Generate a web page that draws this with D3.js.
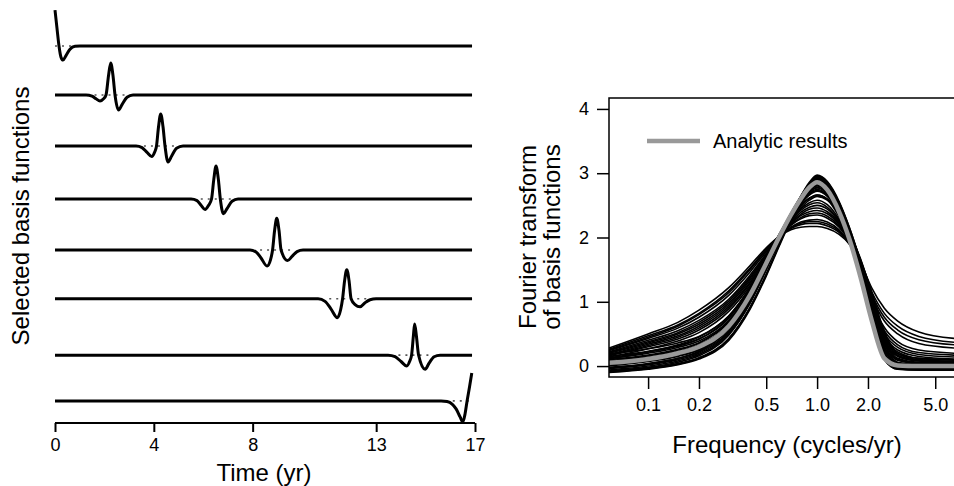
<!DOCTYPE html>
<html>
<head>
<meta charset="utf-8">
<script src="https://cdn.jsdelivr.net/npm/d3@7/dist/d3.min.js"></script>
<style>
  html, body { margin: 0; padding: 0; background: #fff; }
  svg { display: block; font-family: "Liberation Sans", Arial, Helvetica, sans-serif; }
</style>
</head>
<body>
<svg id="chart" width="954" height="486"></svg>
<script>
// ---------- Left panel: selected basis functions ----------
const timeTicks = [0, 4, 8, 13, 17];

// vertical offset of each stacked basis function (amplitude units)
const rowOffsets = [0, -1.53, -3.125, -4.78, -6.375, -7.9, -9.66, -11.09];

// basis functions as [time (yr), amplitude]
const basisRows = [
  [[0, 1.12], [0.081, 0.55], [0.162, 0], [0.243, -0.35], [0.324, -0.44], [0.445, -0.3], [0.607, -0.1], [0.81, -0.01], [1.01, 0], [16.88, 0]],
  [[0, 0], [1.255, 0], [1.498, -0.04], [1.66, -0.12], [1.822, -0.19], [1.964, -0.12], [2.065, 0], [2.166, 0.6], [2.255, 1.0], [2.348, 0.6], [2.429, 0], [2.571, -0.47], [2.713, -0.3], [2.915, -0.07], [3.158, 0], [16.88, 0]],
  [[0, 0], [3.279, 0], [3.522, -0.05], [3.725, -0.2], [3.915, -0.33], [4.028, -0.2], [4.109, 0], [4.19, 0.6], [4.279, 1.0], [4.372, 0.6], [4.453, 0], [4.575, -0.5], [4.717, -0.32], [4.919, -0.07], [5.182, 0], [16.88, 0]],
  [[0, 0], [5.506, 0], [5.749, -0.05], [5.911, -0.2], [6.073, -0.33], [6.215, -0.2], [6.336, 0], [6.429, 0.62], [6.518, 1.03], [6.611, 0.62], [6.692, 0], [6.814, -0.46], [6.964, -0.3], [7.166, -0.07], [7.409, 0], [16.88, 0]],
  [[0, 0], [7.895, 0], [8.138, -0.06], [8.34, -0.25], [8.583, -0.5], [8.725, -0.3], [8.806, 0], [8.887, 0.6], [8.976, 0.99], [9.069, 0.6], [9.15, 0], [9.413, -0.33], [9.595, -0.2], [9.798, -0.05], [10.04, 0], [16.88, 0]],
  [[0, 0], [10.648, 0], [10.931, -0.08], [11.174, -0.32], [11.429, -0.59], [11.559, -0.35], [11.64, 0], [11.721, 0.56], [11.81, 0.91], [11.903, 0.56], [11.984, 0], [12.146, -0.18], [12.348, -0.25], [12.551, -0.12], [12.753, -0.03], [12.996, 0], [16.88, 0]],
  [[0, 0], [13.482, 0], [13.765, -0.05], [14.008, -0.2], [14.239, -0.34], [14.352, -0.2], [14.433, 0], [14.506, 0.6], [14.555, 0.97], [14.628, 0.6], [14.717, 0], [14.98, -0.44], [15.142, -0.25], [15.344, -0.05], [15.587, 0], [16.88, 0]],
  [[0, 0], [15.628, 0], [15.87, -0.02], [16.073, -0.1], [16.235, -0.25], [16.397, -0.5], [16.506, -0.66], [16.599, -0.4], [16.68, 0], [16.781, 0.45], [16.87, 0.875]]
];

// dotted zero reference under each basis function [from, to] (yr)
const dottedSpans = [[0, 0.7], [1.6, 3.0], [3.6, 5.0], [5.9, 7.2], [8.3, 9.7], [11.1, 12.6], [13.9, 15.3], [16.1, 16.88]];

// ---------- Right panel: Fourier transforms ----------
const freqTicks = [0.1, 0.2, 0.5, 1.0, 2.0, 5.0];
const ftTicks = [0, 1, 2, 3, 4];

const freqGrid = [0.0587, 0.1, 0.15, 0.2, 0.3, 0.4, 0.5, 0.6, 0.7, 0.8, 0.9, 1.0, 1.15, 1.35, 1.55, 1.8, 2.1, 2.5, 3.0, 4.0, 6.5];

const analytic = [0.05, 0.11, 0.2, 0.3, 0.62, 1.1, 1.6, 2.02, 2.35, 2.6, 2.78, 2.86, 2.74, 2.4, 1.98, 1.4, 0.72, 0.12, 0.01, 0.0, 0.0];

// transforms of the individual numerical basis functions
const numericCurves = [
  [-0.02, 0.04, 0.12, 0.22, 0.54, 1.02, 1.55, 2.0, 2.36, 2.64, 2.84, 2.95, 2.84, 2.5, 2.08, 1.52, 0.86, 0.2, 0.0, -0.04, -0.04],
  [-0.1, -0.05, 0.02, 0.11, 0.4, 0.88, 1.4, 1.88, 2.27, 2.58, 2.81, 2.92, 2.8, 2.44, 2.0, 1.42, 0.74, 0.1, -0.05, -0.06, -0.06],
  [0.0, 0.07, 0.15, 0.25, 0.57, 1.05, 1.57, 2.0, 2.34, 2.6, 2.8, 2.89, 2.78, 2.46, 2.06, 1.5, 0.84, 0.18, 0.0, -0.02, -0.02],
  [-0.06, 0.0, 0.08, 0.18, 0.5, 0.98, 1.5, 1.96, 2.33, 2.62, 2.84, 2.96, 2.86, 2.54, 2.12, 1.56, 0.88, 0.18, -0.03, -0.05, -0.05],
  [-0.08, -0.03, 0.04, 0.13, 0.43, 0.91, 1.43, 1.91, 2.3, 2.61, 2.84, 2.94, 2.84, 2.52, 2.1, 1.54, 0.86, 0.16, -0.04, -0.06, -0.06],
  [-0.04, 0.02, 0.1, 0.2, 0.52, 1.0, 1.52, 1.98, 2.35, 2.63, 2.83, 2.93, 2.82, 2.5, 2.09, 1.52, 0.84, 0.14, -0.03, -0.04, -0.04],
  [0.02, 0.09, 0.18, 0.29, 0.63, 1.12, 1.63, 2.05, 2.38, 2.63, 2.8, 2.9, 2.8, 2.5, 2.12, 1.6, 0.96, 0.26, 0.02, -0.01, -0.01],
  [-0.07, -0.02, 0.06, 0.16, 0.48, 0.97, 1.5, 1.96, 2.34, 2.64, 2.86, 2.97, 2.87, 2.56, 2.16, 1.62, 0.96, 0.22, -0.03, -0.05, -0.05],
  [-0.03, 0.03, 0.12, 0.23, 0.58, 1.08, 1.6, 2.03, 2.37, 2.63, 2.82, 2.91, 2.83, 2.54, 2.16, 1.64, 1.0, 0.3, 0.01, -0.03, -0.03],
  [-0.09, -0.04, 0.03, 0.12, 0.42, 0.9, 1.42, 1.9, 2.29, 2.59, 2.81, 2.93, 2.81, 2.46, 2.02, 1.44, 0.76, 0.1, -0.05, -0.06, -0.06],
  [0.04, 0.11, 0.19, 0.29, 0.61, 1.09, 1.6, 2.03, 2.36, 2.6, 2.76, 2.83, 2.72, 2.44, 2.08, 1.58, 0.98, 0.3, 0.04, 0.01, 0.01],
  [0.07, 0.14, 0.23, 0.33, 0.65, 1.12, 1.62, 2.04, 2.36, 2.58, 2.72, 2.8, 2.7, 2.42, 2.06, 1.6, 1.02, 0.36, 0.06, 0.02, 0.02],
  [0.1, 0.17, 0.26, 0.36, 0.68, 1.14, 1.62, 2.03, 2.34, 2.56, 2.71, 2.78, 2.68, 2.4, 2.04, 1.58, 1.04, 0.4, 0.09, 0.04, 0.03],
  [0.12, 0.2, 0.29, 0.39, 0.71, 1.17, 1.64, 2.04, 2.33, 2.54, 2.68, 2.75, 2.66, 2.4, 2.06, 1.62, 1.08, 0.44, 0.12, 0.06, 0.05],
  [0.15, 0.23, 0.32, 0.42, 0.74, 1.2, 1.66, 2.05, 2.32, 2.52, 2.66, 2.72, 2.64, 2.38, 2.06, 1.64, 1.12, 0.48, 0.15, 0.08, 0.06],
  [0.19, 0.27, 0.36, 0.46, 0.78, 1.22, 1.66, 2.04, 2.28, 2.46, 2.58, 2.64, 2.58, 2.36, 2.06, 1.66, 1.16, 0.54, 0.2, 0.12, 0.1],
  [0.08, 0.16, 0.25, 0.36, 0.7, 1.17, 1.66, 2.06, 2.36, 2.56, 2.68, 2.73, 2.65, 2.42, 2.1, 1.66, 1.1, 0.42, 0.1, 0.04, 0.03],
  [0.05, 0.12, 0.21, 0.31, 0.63, 1.1, 1.6, 2.02, 2.34, 2.56, 2.7, 2.77, 2.69, 2.44, 2.1, 1.64, 1.06, 0.36, 0.05, 0.02, 0.02],
  [0.13, 0.22, 0.31, 0.42, 0.76, 1.22, 1.68, 2.06, 2.33, 2.5, 2.61, 2.66, 2.6, 2.38, 2.08, 1.68, 1.14, 0.5, 0.17, 0.09, 0.07],
  [0.02, 0.08, 0.16, 0.26, 0.58, 1.06, 1.56, 2.0, 2.34, 2.58, 2.74, 2.81, 2.74, 2.48, 2.12, 1.62, 1.0, 0.3, 0.02, 0.0, 0.0],
  [0.28, 0.5, 0.68, 0.87, 1.22, 1.56, 1.84, 2.02, 2.12, 2.16, 2.17, 2.17, 2.14, 2.05, 1.9, 1.62, 1.22, 0.9, 0.7, 0.53, 0.43],
  [0.26, 0.47, 0.64, 0.82, 1.17, 1.52, 1.82, 2.02, 2.14, 2.2, 2.22, 2.22, 2.18, 2.08, 1.9, 1.58, 1.16, 0.82, 0.62, 0.46, 0.37],
  [0.24, 0.43, 0.59, 0.76, 1.1, 1.46, 1.78, 2.02, 2.16, 2.24, 2.27, 2.28, 2.24, 2.12, 1.92, 1.56, 1.08, 0.7, 0.5, 0.35, 0.28],
  [0.22, 0.4, 0.55, 0.71, 1.04, 1.41, 1.75, 2.02, 2.19, 2.29, 2.34, 2.35, 2.3, 2.16, 1.94, 1.54, 1.0, 0.6, 0.38, 0.25, 0.2],
  [0.2, 0.36, 0.5, 0.65, 0.98, 1.36, 1.72, 2.01, 2.21, 2.34, 2.4, 2.42, 2.37, 2.2, 1.96, 1.52, 0.94, 0.5, 0.29, 0.18, 0.14],
  [0.17, 0.32, 0.45, 0.59, 0.92, 1.3, 1.68, 2.0, 2.23, 2.39, 2.47, 2.5, 2.44, 2.24, 1.97, 1.5, 0.9, 0.42, 0.22, 0.12, 0.09],
  [0.14, 0.27, 0.39, 0.52, 0.85, 1.25, 1.65, 2.0, 2.26, 2.44, 2.54, 2.58, 2.51, 2.28, 1.98, 1.48, 0.86, 0.35, 0.16, 0.08, 0.06],
  [0.11, 0.22, 0.33, 0.45, 0.78, 1.2, 1.62, 2.0, 2.29, 2.49, 2.61, 2.66, 2.59, 2.32, 1.99, 1.46, 0.82, 0.28, 0.11, 0.05, 0.04],
  [0.25, 0.45, 0.62, 0.8, 1.14, 1.5, 1.8, 2.02, 2.15, 2.22, 2.25, 2.25, 2.21, 2.1, 1.91, 1.57, 1.12, 0.76, 0.56, 0.41, 0.33],
  [0.16, 0.3, 0.42, 0.56, 0.89, 1.28, 1.67, 2.0, 2.25, 2.42, 2.51, 2.54, 2.47, 2.26, 1.97, 1.49, 0.88, 0.38, 0.19, 0.1, 0.07],
  [0.21, 0.38, 0.52, 0.68, 1.01, 1.38, 1.73, 2.01, 2.2, 2.31, 2.37, 2.38, 2.33, 2.18, 1.95, 1.53, 0.97, 0.55, 0.33, 0.21, 0.17],
  [0.18, 0.34, 0.47, 0.62, 0.95, 1.33, 1.7, 2.0, 2.22, 2.36, 2.44, 2.46, 2.4, 2.22, 1.96, 1.51, 0.92, 0.46, 0.25, 0.15, 0.11]
];

const legendLabel = "Analytic results";

// ---------- drawing ----------
const svg = d3.select("#chart");

// left panel scales
const xT = d3.scaleLinear().domain([0, 17]).range([55, 475]);
const yL = d3.scaleLinear().domain([0, -11.09]).range([46, 400.9]);

const left = svg.append("g");

const rowLine = (off) => d3.line()
  .x(d => xT(d[0]))
  .y(d => yL(off + d[1]))
  .curve(d3.curveMonotoneX);

// dotted references
left.selectAll("line.ref").data(dottedSpans).join("line")
  .attr("class", "ref")
  .attr("x1", d => xT(d[0])).attr("x2", d => xT(d[1]))
  .attr("y1", (d, i) => yL(rowOffsets[i])).attr("y2", (d, i) => yL(rowOffsets[i]))
  .attr("stroke", "#555").attr("stroke-width", 1.6)
  .attr("stroke-dasharray", "2,5");

left.selectAll("path.basis").data(basisRows).join("path")
  .attr("class", "basis")
  .attr("d", (d, i) => rowLine(rowOffsets[i])(d))
  .attr("fill", "none").attr("stroke", "#000")
  .attr("stroke-width", 3).attr("stroke-linejoin", "round");

// time axis
const axT = left.append("g").attr("transform", "translate(0,423)")
  .call(d3.axisBottom(xT).tickValues(timeTicks).tickSize(9).tickPadding(6).tickFormat(d3.format("d")));
axT.select(".domain").attr("stroke-width", 2).attr("d", `M${xT(0)},0H${xT(17)}`);
axT.selectAll(".tick line").attr("stroke-width", 2);
axT.selectAll(".tick text").attr("font-size", 18).attr("fill", "#000");
axT.attr("font-family", null).attr("font-size", null);

left.append("text").attr("x", 264).attr("y", 481)
  .attr("text-anchor", "middle").attr("font-size", 24).text("Time (yr)");
left.append("text").attr("transform", "translate(29,216) rotate(-90)")
  .attr("text-anchor", "middle").attr("font-size", 24).text("Selected basis functions");

// right panel scales
const xF = d3.scaleLog().domain([0.0587, 10]).range([609, 609 + 169 * Math.log10(10 / 0.0587)]);
const yF = d3.scaleLinear().domain([-0.17, 4.17]).range([377, 98]);

const right = svg.append("g");
right.append("clipPath").attr("id", "plotclip").append("rect")
  .attr("x", xF.range()[0]).attr("y", yF.range()[1])
  .attr("width", xF.range()[1] - xF.range()[0]).attr("height", yF.range()[0] - yF.range()[1]);

const ftLine = d3.line()
  .x((d, i) => xF(freqGrid[i]))
  .y(d => yF(d))
  .curve(d3.curveMonotoneX);

const curves = right.append("g").attr("clip-path", "url(#plotclip)");
curves.selectAll("path.num").data(numericCurves).join("path")
  .attr("class", "num")
  .attr("d", ftLine)
  .attr("fill", "none").attr("stroke", "#000").attr("stroke-width", 1.6);
curves.append("path").datum(analytic)
  .attr("d", ftLine)
  .attr("fill", "none").attr("stroke", "#999").attr("stroke-width", 4.5);

// plot frame
right.append("rect")
  .attr("x", xF.range()[0]).attr("y", yF.range()[1])
  .attr("width", xF.range()[1] - xF.range()[0]).attr("height", yF.range()[0] - yF.range()[1])
  .attr("fill", "none").attr("stroke", "#000").attr("stroke-width", 1.5);

const axF = right.append("g").attr("transform", `translate(0,${yF.range()[0]})`)
  .call(d3.axisBottom(xF).tickValues(freqTicks).tickSize(12).tickPadding(9).tickFormat(d3.format(".1f")));
axF.select(".domain").remove();
axF.selectAll(".tick line").attr("stroke-width", 1.5);
axF.selectAll(".tick text").attr("font-size", 18).attr("fill", "#000");
axF.attr("font-family", null).attr("font-size", null);

const axY = right.append("g").attr("transform", `translate(${xF.range()[0]},0)`)
  .call(d3.axisLeft(yF).tickValues(ftTicks).tickSize(12).tickPadding(8).tickFormat(d3.format("d")));
axY.select(".domain").remove();
axY.selectAll(".tick line").attr("stroke-width", 1.5);
axY.selectAll(".tick text").attr("font-size", 18).attr("fill", "#000");
axY.attr("font-family", null).attr("font-size", null);

right.append("text").attr("x", 787).attr("y", 453)
  .attr("text-anchor", "middle").attr("font-size", 24).text("Frequency (cycles/yr)");
right.append("text").attr("transform", "translate(536,237) rotate(-90)")
  .attr("text-anchor", "middle").attr("font-size", 24).text("Fourier transform");
right.append("text").attr("transform", "translate(560,237) rotate(-90)")
  .attr("text-anchor", "middle").attr("font-size", 24).text("of basis functions");

// legend
right.append("line").attr("x1", 647).attr("x2", 700).attr("y1", 141).attr("y2", 141)
  .attr("stroke", "#999").attr("stroke-width", 4.5);
right.append("text").attr("x", 713).attr("y", 148).attr("font-size", 20).text(legendLabel);
</script>
</body>
</html>
